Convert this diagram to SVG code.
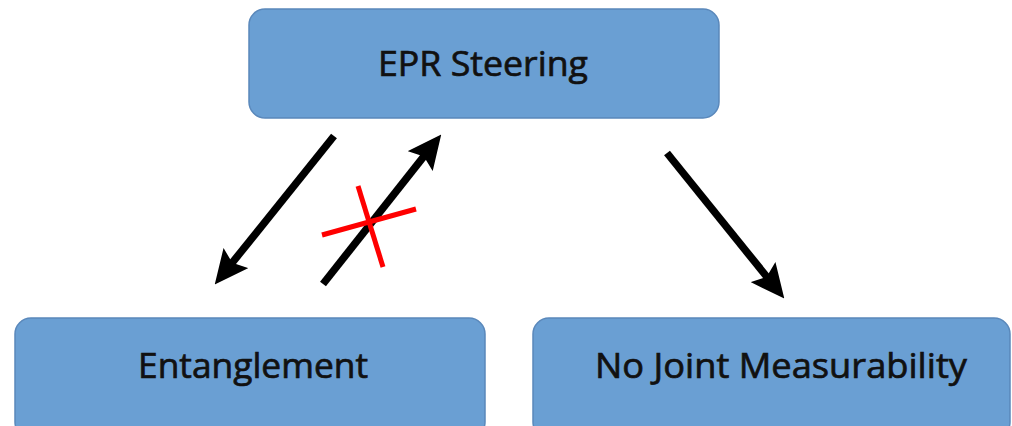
<svg xmlns="http://www.w3.org/2000/svg" width="1012" height="426" viewBox="0 0 1012 426">
<style>
.box{fill:#6a9fd3;stroke:#5a88bb;stroke-width:1.5}
.lbl{font-family:"Open Sans","DejaVu Sans",sans-serif;font-size:35px;font-weight:500;fill:#111;stroke:#111;stroke-width:0.7;text-anchor:middle}
.arr{stroke:#000;stroke-width:7.5;fill:none;marker-end:url(#ah)}
.x{stroke:#f00;stroke-width:5}
</style>
<defs>
<marker id="ah" viewBox="0 0 34 32" refX="12" refY="16" markerWidth="34" markerHeight="32" markerUnits="userSpaceOnUse" orient="auto">
<path d="M0,0 L34,16 L0,32 L6,16 Z" fill="#000"/>
</marker>
</defs>
<rect width="1012" height="426" fill="#fff"/>
<g id="epr">
<rect class="box" x="249" y="9" width="470" height="109" rx="16"/>
<text class="lbl" x="483" y="76" textLength="210" lengthAdjust="spacingAndGlyphs">EPR Steering</text>
</g>
<g id="entanglement">
<rect class="box" x="15" y="318" width="470" height="120" rx="16"/>
<text class="lbl" x="253" y="378" textLength="230" lengthAdjust="spacingAndGlyphs">Entanglement</text>
</g>
<g id="njm">
<rect class="box" x="533" y="318" width="477" height="120" rx="16"/>
<text class="lbl" x="781" y="378" textLength="372" lengthAdjust="spacingAndGlyphs">No Joint Measurability</text>
</g>
<g id="connectors">
<line class="arr" x1="334" y1="136" x2="228.5" y2="267.4"/>
<line class="arr" x1="323" y1="284" x2="427.6" y2="151.7"/>
<line class="arr" x1="667" y1="153" x2="770.5" y2="281.4"/>
<line class="x" x1="322" y1="235" x2="416" y2="209"/>
<line class="x" x1="358" y1="186" x2="383" y2="267"/>
</g>
</svg>
